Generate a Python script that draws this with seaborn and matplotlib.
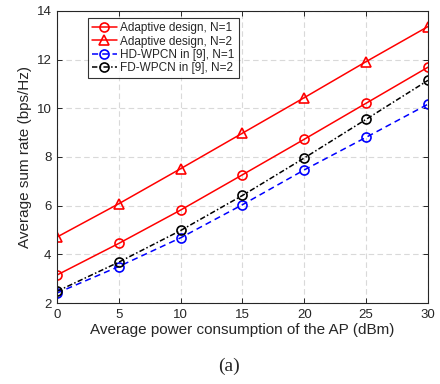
"""Average sum rate versus AP power consumption."""

import matplotlib

matplotlib.use("Agg")
import matplotlib.pyplot as plt
import pandas as pd
import seaborn as sns

power_dbm = [0, 5, 10, 15, 20, 25, 30]
adaptive_n1 = [3.15, 4.45, 5.82, 7.27, 8.73, 10.21, 11.69]
adaptive_n2 = [4.71, 6.08, 7.52, 8.98, 10.44, 11.92, 13.36]
hd_wpcn_n1 = [2.41, 3.50, 4.68, 6.04, 7.47, 8.81, 10.17]
fd_wpcn_n2 = [2.48, 3.68, 4.98, 6.42, 7.96, 9.55, 11.15]

labels = [
    "Adaptive design, N=1",
    "Adaptive design, N=2",
    "HD-WPCN in [9], N=1",
    "FD-WPCN in [9], N=2",
]
series = [adaptive_n1, adaptive_n2, hd_wpcn_n1, fd_wpcn_n2]
colors = ["#ff0000", "#ff0000", "#0000ff", "#000000"]
markers = ["o", "^", "o", "o"]
styles = ["-", "-", (0, (4, 2.7)), (0, (3.5, 1.5, 1, 1.5))]

sns.set_style("ticks")
plt.rcParams["font.family"] = ["Liberation Sans", "DejaVu Sans"]

fig = plt.figure(figsize=(4.4, 3.84), dpi=100)
ax = fig.add_axes([0.1295, 0.2109, 0.8432, 0.7605])

for label, values, color, marker, ls in zip(labels, series, colors, markers, styles):
    df = pd.DataFrame({"power": power_dbm, "rate": values})
    sns.lineplot(
        data=df,
        x="power",
        y="rate",
        ax=ax,
        color=color,
        marker=marker,
        markersize=6.5,
        markerfacecolor="none",
        markeredgecolor=color,
        markeredgewidth=1.2,
        linewidth=1.1,
        linestyle=ls,
        label=label,
    )

ax.set_xlim(0, 30)
ax.set_ylim(2, 14)
ax.set_xticks(power_dbm)
ax.set_yticks([2, 4, 6, 8, 10, 12, 14])
ax.grid(True, linestyle=(0, (5, 3)), color="#d9d9d9", linewidth=0.8)
ax.set_axisbelow(True)

for side in ["top", "right", "bottom", "left"]:
    ax.spines[side].set_visible(True)
    ax.spines[side].set_color("#262626")
    ax.spines[side].set_linewidth(0.8)
ax.tick_params(
    direction="in", top=True, right=True, length=3.5, width=0.7,
    labelsize=9.5, colors="#262626", pad=4,
)

ax.set_xlabel("Average power consumption of the AP (dBm)", fontsize=11,
              color="#262626", labelpad=2)
ax.set_ylabel("Average sum rate (bps/Hz)", fontsize=11, color="#262626",
              labelpad=3)

leg = ax.legend(
    loc="upper left",
    bbox_to_anchor=(0.083, 0.975),
    fontsize=8.5,
    frameon=True,
    fancybox=False,
    edgecolor="#000000",
    borderpad=0.35,
    labelspacing=0.1,
    handlelength=2.1,
    handletextpad=0.3,
    borderaxespad=0,
)
leg.get_frame().set_linewidth(0.8)

fig.text(0.521, 0.047, "(a)", ha="center", va="center", fontsize=14,
         family=["Liberation Serif", "DejaVu Serif"])

fig.savefig("out.png", dpi=100)
